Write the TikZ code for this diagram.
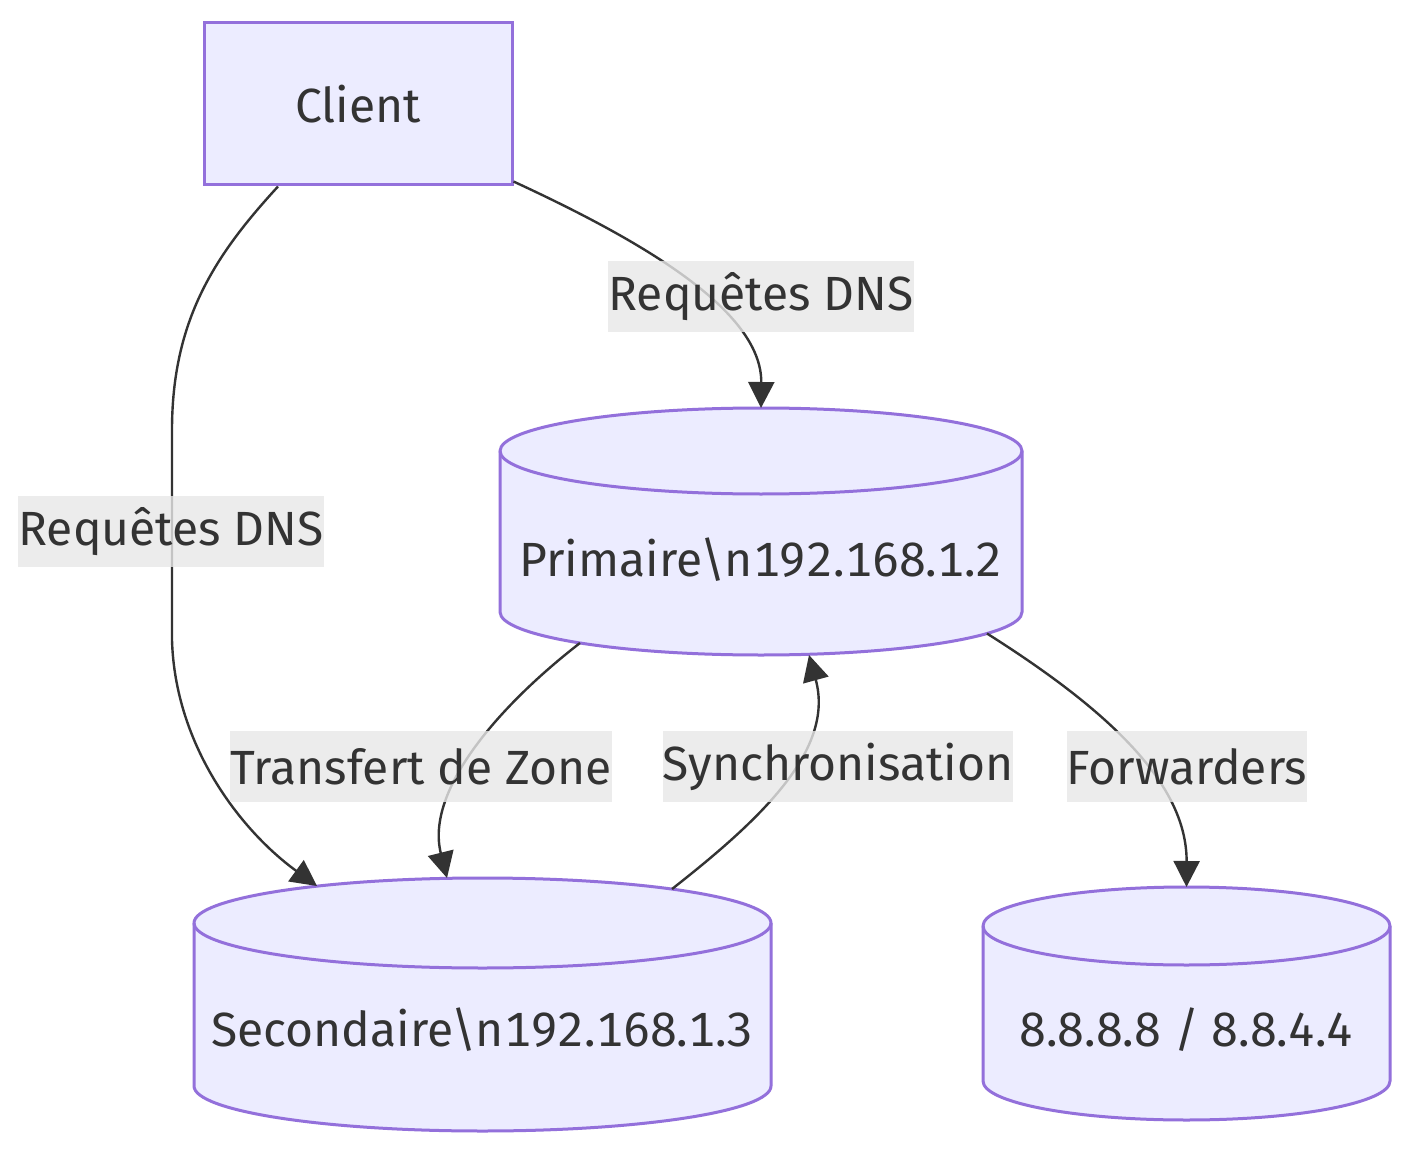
\documentclass[tikz,border=0pt]{standalone}
\usepackage{fontspec}
\setmainfont{Fira Sans}[Numbers=Monospaced]
\usetikzlibrary{arrows.meta,backgrounds}
\definecolor{nodefill}{HTML}{ECECFF}
\definecolor{nodeline}{HTML}{9370DB}
\definecolor{edgeline}{HTML}{333333}
\definecolor{labelfill}{HTML}{E8E8E8}

\begin{document}
\begin{tikzpicture}[x=0.5pt, y=-0.5pt,
		every node/.style={text=edgeline, font=\fontsize{24}{29}\selectfont},
		box/.style={draw=nodeline, fill=nodefill, line width=1.5pt, minimum width=154pt, minimum height=81pt},
		db/.style={inner sep=0pt, outer sep=0pt},
		dbline/.style={draw=nodeline, fill=nodefill, line width=1.5pt},
		flow/.style={draw=edgeline, line width=1.2pt, -{Triangle[length=13pt,width=13pt]}},
		edgelabel/.style={fill=labelfill, fill opacity=0.8, text opacity=1, inner xsep=0pt, inner ysep=0pt, minimum height=35.5pt}]
			\useasboundingbox (0,0) rectangle (1414,1155);

			\node[box] (client) at (358,104) {Client};
			\node[db, minimum width=261pt, minimum height=123.5pt,
				label={[yshift=-14.25pt]center:Primaire\textbackslash n192.168.1.2}] (prim) at (761,531.5) {};
			\node[db, minimum width=288.5pt, minimum height=126.5pt,
				label={[yshift=-12.75pt]center:Secondaire\textbackslash n192.168.1.3}] (sec) at (482.5,1004.5) {};
			\node[db, minimum width=203.5pt, minimum height=116.5pt,
				label={[yshift=-13.25pt]center:8.8.8.8 / 8.8.4.4}] (fwd) at (1186.5,1003.5) {};

			\begin{scope}[on background layer]
				\fill[white] (0,0) rectangle (1414,1155);
				\foreach \db/\rx/\ry in {prim/130.5pt/21.5pt, sec/144.25pt/22.5pt, fwd/101.75pt/19.5pt}
					{
						\filldraw[dbline] ([yshift=-\ry]\db.north west) -- ([yshift=\ry]\db.south west)
							arc[start angle=180, end angle=360, x radius=\rx, y radius=\ry]
							-- ([yshift=-\ry]\db.north east)
							arc[start angle=0, end angle=180, x radius=\rx, y radius=\ry] -- cycle;
						\draw[dbline, fill=none] ([yshift=-\ry]\db.north west)
							arc[start angle=180, end angle=360, x radius=\rx, y radius=\ry];
					}
			\end{scope}

			\draw[flow] ([yshift=2.5pt]client.south east) .. controls (640,240) and (762,310) .. (prim.north);
			\draw[flow] ([xshift=-40pt]client.south) .. controls (215,255) and (172,320) .. (172,430)
				-- (172,640) .. controls (175,745) and (240,830) .. ([xshift=-82.75pt,yshift=-4pt]sec.north);
			\draw[flow] ([xshift=-90.5pt,yshift=6pt]prim.south) .. controls (500,705) and (425,790) .. ([xshift=-17.75pt]sec.north);
			\draw[flow] ([xshift=94.75pt,yshift=-5.5pt]sec.north) .. controls (760,820) and (835,750) .. ([xshift=24pt]prim.south);
			\draw[flow] ([xshift=113pt,yshift=10.75pt]prim.south) .. controls (1100,705) and (1187,780) .. (fwd.north);

			\node[edgelabel] (lblclientprim) at (761,296.5) {Requêtes DNS};
			\node[edgelabel] (lblclientsec) at (171,531.5) {Requêtes DNS};
			\node[edgelabel] (lbltransfer) at (421,766.5) {Transfert de Zone};
			\node[edgelabel] (lblsync) at (838,766.5) {Synchronisation};
			\node[edgelabel] (lblfwd) at (1187,766.5) {Forwarders};
		\end{tikzpicture}
\end{document}
